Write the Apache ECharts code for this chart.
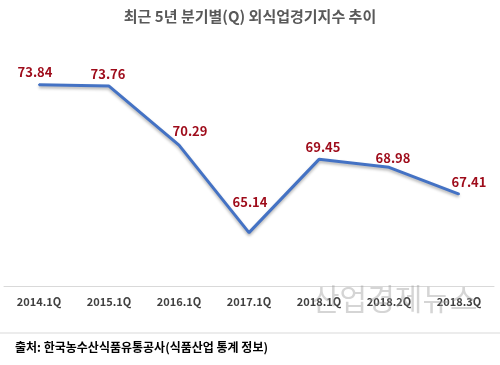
<!DOCTYPE html>
<html><head><meta charset="utf-8">
<script src="https://cdn.jsdelivr.net/npm/echarts@6/dist/echarts.min.js"></script>
<style>html,body{margin:0;padding:0;background:#fff}#c{width:500px;height:365px}</style>
</head><body><div id="c"></div>
<script>
const categories = ['2014.1Q','2015.1Q','2016.1Q','2017.1Q','2018.1Q','2018.2Q','2018.3Q'];
const values = [73.84, 73.76, 70.29, 65.14, 69.45, 68.98, 67.41];
const titleText = '최근 5년 분기별(Q) 외식업경기지수 추이';
const sourceText = '출처: 한국농수산식품유통공사(식품산업 통계 정보)';
const watermarkText = '산업경제뉴스';

// label nudges (style only)
const labelNudge = [[-4,0],[-1,0],[11,-2],[1,-18],[4,0],[4,3],[10,1]];

const chart = echarts.init(document.getElementById('c'), null, {renderer:'canvas'});
const ff = '"Noto Sans CJK KR","Noto Sans",sans-serif';
const seriesData = values.map((v,i)=>({value:v,label:{offset:labelNudge[i]}}));
chart.setOption({
  animation:false,
  backgroundColor:'#fff',
  title:{text:titleText,left:'center',top:4,textStyle:{fontFamily:ff,fontSize:15,fontWeight:'bold',color:'#595959'}},
  grid:{left:4,right:6,top:48,bottom:79,containLabel:false},
  xAxis:{type:'category',data:categories,boundaryGap:true,
    axisLine:{lineStyle:{color:'#d9d9d9',width:1}},axisTick:{show:false},
    axisLabel:{fontFamily:ff,fontSize:11,fontWeight:'bold',color:'#404040',margin:10}},
  yAxis:{type:'value',min:62,max:76,show:false,splitLine:{show:false}},
  graphic:[
    {type:'line',shape:{x1:0,y1:333,x2:500,y2:333},style:{stroke:'#d9d9d9',lineWidth:1}},
    {type:'text',left:15,top:341,style:{text:sourceText,font:'bold 12px '+ff,fill:'#000'}},
    {type:'text',left:312,top:284,z:100,style:{text:watermarkText,font:'30px '+ff,fill:'rgba(150,150,150,0.4)'}}
  ],
  series:[{type:'line',data:seriesData,symbol:'circle',symbolSize:2,showSymbol:true,
    itemStyle:{color:'#4472C4'},
    lineStyle:{color:'#4472C4',width:3,shadowColor:'rgba(0,0,0,0.3)',shadowBlur:3,shadowOffsetY:2},
    label:{show:true,position:'top',distance:5,fontFamily:ff,fontSize:13,fontWeight:'bold',color:'#9E0B1A'}}]
});
</script></body></html>
